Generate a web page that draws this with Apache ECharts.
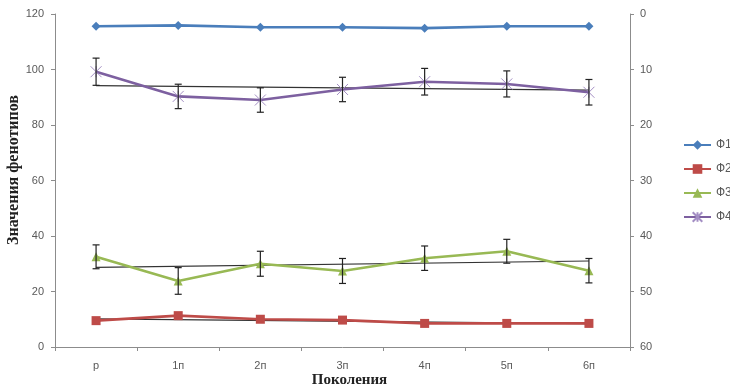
<!DOCTYPE html>
<html>
<head>
<meta charset="utf-8">
<script src="https://cdn.jsdelivr.net/npm/echarts@6/dist/echarts.min.js"></script>
<style>
  html, body { margin: 0; padding: 0; background: #fff; }
  #chart { width: 730px; height: 385px; }
</style>
</head>
<body>
<div id="chart"></div>
<script>
// Generations along the x axis
const categories = ['р', '1п', '2п', '3п', '4п', '5п', '6п'];

// Phenotype values per generation
const f1 = [115.6, 115.9, 115.2, 115.2, 114.9, 115.6, 115.6];
const f2 = [9.5, 11.3, 10.0, 9.7, 8.5, 8.5, 8.5];
const f3 = [32.5, 23.8, 30.0, 27.4, 32.0, 34.5, 27.5];
const f4 = [99.2, 90.3, 89.0, 92.8, 95.6, 94.8, 91.8];

// Half-width of the error bars for Ф3 and Ф4
const err3 = [4.3, 4.8, 4.5, 4.5, 4.4, 4.3, 4.4];
const err4 = [4.9, 4.4, 4.4, 4.4, 4.8, 4.7, 4.6];

// Linear trend lines: value at first and last generation
const trend2 = [10.1, 8.4];
const trend3 = [28.7, 31.0];
const trend4 = [94.2, 92.6];

// Axis ticks
const leftTicks = { min: 0, max: 120, interval: 20 };
const rightTicks = { min: 0, max: 60, interval: 10 };

const names = ['Ф1', 'Ф2', 'Ф3', 'Ф4'];
const colors = ['#4a7ebb', '#be4b48', '#98b954', '#7d60a0'];

const axisGrey = '#8c8c8c';
const labelGrey = '#595959';
const sansFont = '"Liberation Sans", Arial, sans-serif';
const serifFont = '"Liberation Serif", "DejaVu Serif", serif';

function trendSeries(pair) {
  return {
    type: 'line',
    data: [[0, pair[0]], [categories.length - 1, pair[1]]],
    symbol: 'none',
    silent: true,
    z: 1,
    lineStyle: { color: '#333', width: 1.2 }
  };
}

function errorSeries(values, errs) {
  return {
    type: 'custom',
    silent: true,
    z: 5,
    data: values.map((v, i) => [i, v - errs[i], v + errs[i]]),
    renderItem(params, api) {
      const lo = api.coord([api.value(0), api.value(1)]);
      const hi = api.coord([api.value(0), api.value(2)]);
      const cap = 3.5;
      const style = { stroke: '#222', lineWidth: 1.2, fill: null };
      return {
        type: 'group',
        children: [
          { type: 'line', shape: { x1: lo[0], y1: lo[1], x2: hi[0], y2: hi[1] }, style },
          { type: 'line', shape: { x1: lo[0] - cap, y1: lo[1], x2: lo[0] + cap, y2: lo[1] }, style },
          { type: 'line', shape: { x1: hi[0] - cap, y1: hi[1], x2: hi[0] + cap, y2: hi[1] }, style }
        ]
      };
    }
  };
}

function mainSeries(idx, data, symbol, size, itemStyle) {
  return {
    name: names[idx],
    type: 'line',
    data: data,
    symbol: symbol,
    symbolSize: size,
    z: 3,
    lineStyle: { color: colors[idx], width: 2.6 },
    itemStyle: Object.assign({ color: colors[idx] }, itemStyle || {})
  };
}

const chart = echarts.init(document.getElementById('chart'), null, { renderer: 'canvas' });

chart.setOption({
  backgroundColor: '#ffffff',
  animation: false,
  textStyle: { fontFamily: sansFont },
  grid: { left: 55, right: 100, top: 14, bottom: 38, outerBoundsMode: 'none', containLabel: false },
  legend: {
    data: names,
    orient: 'vertical',
    left: 678,
    top: 134,
    itemWidth: 27,
    itemHeight: 12,
    itemGap: 12,
    textStyle: { fontSize: 12, color: labelGrey }
  },
  xAxis: {
    type: 'category',
    data: categories,
    boundaryGap: true,
    name: 'Поколения',
    nameLocation: 'middle',
    nameGap: 26,
    nameMoveOverlap: false,
    nameTextStyle: { fontFamily: serifFont, fontWeight: 'bold', fontSize: 15, color: '#222', padding: [0, 0, 0, 14] },
    axisLine: { lineStyle: { color: axisGrey, width: 1 } },
    axisTick: { show: true, length: 4, inside: false, alignWithLabel: false, lineStyle: { color: axisGrey } },
    axisLabel: { fontSize: 11, color: labelGrey, margin: 13 },
    splitLine: { show: false }
  },
  yAxis: [
    {
      type: 'value',
      min: leftTicks.min,
      max: leftTicks.max,
      interval: leftTicks.interval,
      name: 'Значения фенотипов',
      nameLocation: 'middle',
      nameGap: 33,
      nameRotate: 90,
      nameMoveOverlap: false,
      nameTextStyle: { fontFamily: serifFont, fontWeight: 'bold', fontSize: 16, color: '#222', padding: [0, 0, 0, 21] },
      axisLine: { show: true, lineStyle: { color: axisGrey, width: 1 } },
      axisTick: { show: true, length: 4, lineStyle: { color: axisGrey } },
      axisLabel: { fontSize: 11, color: labelGrey, margin: 11 },
      splitLine: { show: false }
    },
    {
      type: 'value',
      position: 'right',
      inverse: true,
      min: rightTicks.min,
      max: rightTicks.max,
      interval: rightTicks.interval,
      axisLine: { show: true, lineStyle: { color: axisGrey, width: 1 } },
      axisTick: { show: true, length: 4, lineStyle: { color: axisGrey } },
      axisLabel: { fontSize: 11, color: labelGrey, margin: 10 },
      splitLine: { show: false }
    }
  ],
  series: [
    trendSeries(trend2),
    trendSeries(trend3),
    trendSeries(trend4),
    mainSeries(0, f1, 'diamond', 9),
    mainSeries(1, f2, 'rect', 9),
    mainSeries(2, f3, 'triangle', 9),
    mainSeries(3, f4, 'path://M0,0L10,10M10,0L0,10M5,0L5,10', 11,
      { color: 'rgba(0,0,0,0)', borderColor: '#a48fc4', borderWidth: 1 }),
    errorSeries(f3, err3),
    errorSeries(f4, err4)
  ]
});
</script>
</body>
</html>
